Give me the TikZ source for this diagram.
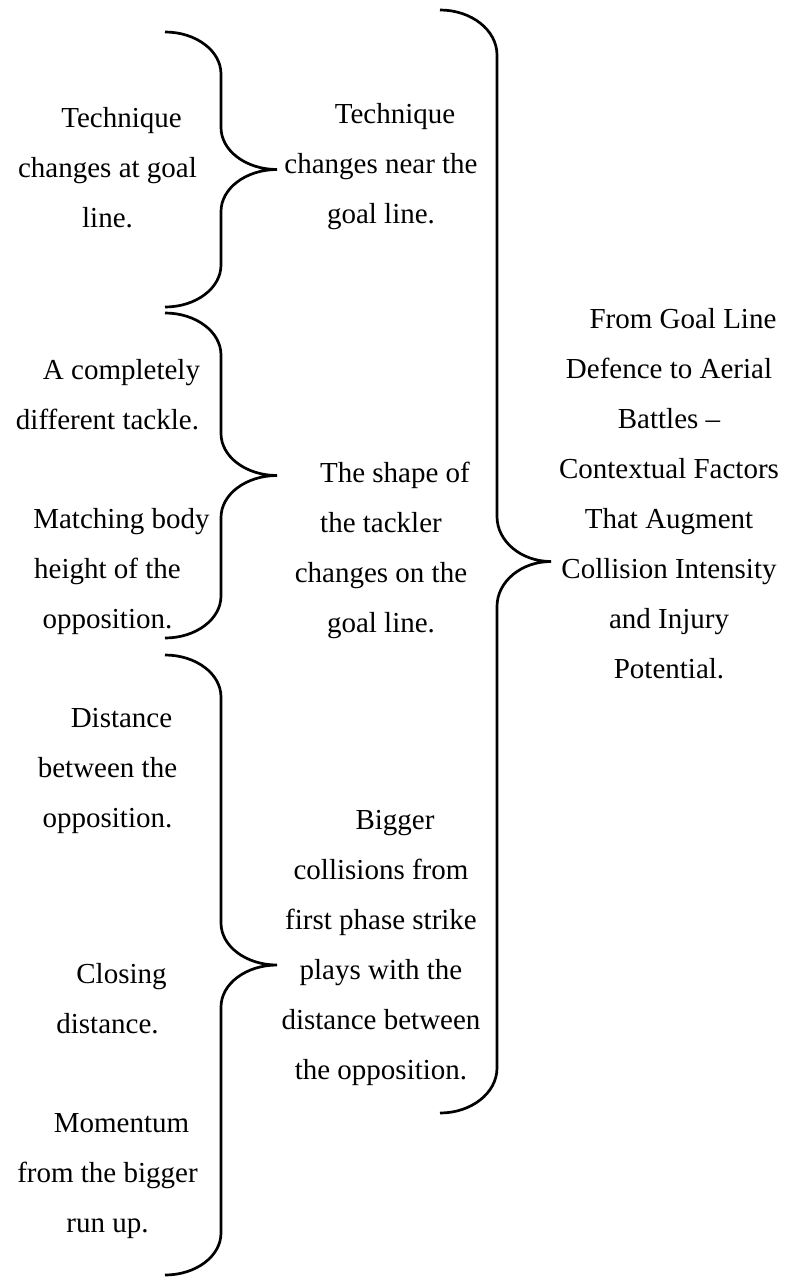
\documentclass[tikz,border=0pt]{standalone}
\usepackage{fontspec}
\setmainfont{Liberation Serif}
% first-line indent used in every text block
\newcommand\firstind{\hspace*{28pt}}
% curly brace: tip x, spine x, point x, top y, bottom y, vertical radius
\newcommand\curlybrace[6]{%
  \pgfmathsetmacro\bmid{(#4+#5)/2}%
  \pgfmathsetmacro\ba{#2-#1}%
  \pgfmathsetmacro\bb{#3-#2}%
  \draw[bracestroke]
    (#1,#4) .. controls ({#1+0.5523*\ba},#4) and (#2,{#4+#6-0.5523*#6}) .. (#2,{#4+#6})
    -- (#2,{\bmid-#6})
    .. controls (#2,{\bmid-#6+0.5523*#6}) and ({#3-0.5523*\bb},\bmid) .. (#3,\bmid)
    .. controls ({#3-0.5523*\bb},\bmid) and (#2,{\bmid+#6-0.5523*#6}) .. (#2,{\bmid+#6})
    -- (#2,{#5-#6})
    .. controls (#2,{#5-#6+0.5523*#6}) and ({#1+0.5523*\ba},#5) .. (#1,#5);
}
\begin{document}
\begin{tikzpicture}[x=1pt,y=-1pt,
  txt/.style={font=\fontsize{29}{50}\selectfont, align=center, inner sep=0pt},
  bracestroke/.style={line width=2.7pt, black}]
\useasboundingbox (0,0) rectangle (791,1277);

% left column
\node[txt] (l1) at (107.5,168) {\firstind Technique\\changes at goal\\line.};
\node[txt] (l2) at (107.5,394.5) {\firstind A completely\\different tackle.};
\node[txt] (l3) at (107.5,571.5) {\firstind Matching body\\height of the\\opposition.};
\node[txt] (l4) at (107.5,771) {\firstind Distance\\between the\\opposition.};
\node[txt] (l5) at (107.5,999) {\firstind Closing\\distance.};
\node[txt] (l6) at (107.5,1176.5) {\firstind Momentum\\from the bigger\\run up.};

% middle column
\node[txt] (m1) at (381,167) {\firstind Technique\\changes near the\\goal line.};
\node[txt] (m2) at (381,550) {\firstind The shape of\\the tackler\\changes on the\\goal line.};
\node[txt] (m3) at (381,948) {\firstind Bigger\\collisions from\\first phase strike\\plays with the\\distance between\\the opposition.};

% right column
\node[txt] (r1) at (669,493.5) {\firstind From Goal Line\\Defence to Aerial\\Battles --\\Contextual Factors\\That Augment\\Collision Intensity\\and Injury\\Potential.};

% braces
\curlybrace{165}{221}{277}{32}{307}{42}
\curlybrace{165}{221}{277}{313}{638}{42}
\curlybrace{165}{221}{277}{655}{1275}{42}
\curlybrace{440}{497}{551}{10}{1113}{45}
\end{tikzpicture}
\end{document}
